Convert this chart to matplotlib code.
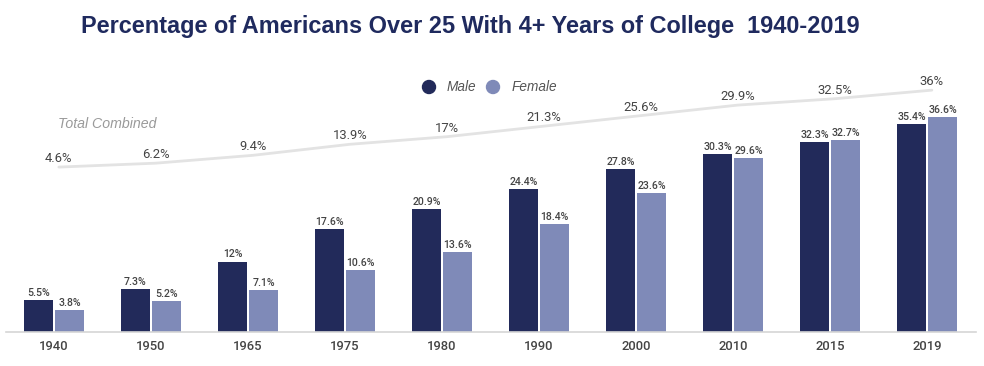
#!/usr/bin/env python3
import matplotlib
matplotlib.use("Agg")
import matplotlib.pyplot as plt
from matplotlib.patches import Ellipse
import numpy as np

years = ["1940", "1950", "1965", "1975", "1980", "1990", "2000", "2010", "2015", "2019"]
male = [5.5, 7.3, 12, 17.6, 20.9, 24.4, 27.8, 30.3, 32.3, 35.4]
female = [3.8, 5.2, 7.1, 10.6, 13.6, 18.4, 23.6, 29.6, 32.7, 36.6]
total = [4.6, 6.2, 9.4, 13.9, 17, 21.3, 25.6, 29.9, 32.5, 36]

navy = "#222a5a"
lavender = "#7f8ab8"
label_col = "#444444"

plt.rcParams['font.family'] = ['Roboto', 'DejaVu Sans']

fig = plt.figure(figsize=(9.84, 3.66), dpi=100, facecolor="white")
# axes: x 5.5..975.5 px, y 332 (bottom) .. 60 (top) px
W, H = 984, 366
ax = fig.add_axes([5.5 / W, (H - 332) / H, 970 / W, 272 / H])
ax.set_xlim(-0.5, 9.5)
ax.set_ylim(0, 46.3)

x = np.arange(len(years))
bw = 0.30
off = 0.16
b1 = ax.bar(x - off, male, bw, color=navy, zorder=2)
b2 = ax.bar(x + off, female, bw, color=lavender, zorder=2)

def fmt(v):
    return f"{v:g}%"

for bars, vals in [(b1, male), (b2, female)]:
    for rect, v in zip(bars, vals):
        ax.annotate(fmt(v), (rect.get_x() + rect.get_width() / 2, v), xytext=(0, 1.5),
                    textcoords="offset points", ha="center", va="bottom",
                    fontsize=7.6, color=label_col, fontweight="medium")

for s in ["top", "right", "left"]:
    ax.spines[s].set_visible(False)
ax.spines["bottom"].set_color("#d6d6d6")
ax.spines["bottom"].set_linewidth(1.2)
ax.set_yticks([])
ax.set_xticks(x)
ax.set_xticklabels(years, fontsize=9.4, color=label_col, fontweight="medium")
ax.tick_params(axis="x", length=0, pad=6)

# total combined on its own scale
ax2 = ax.twinx()
ax2.set_ylim(-62.7, 48.3)
ax2.axis("off")
ax2.plot(x + 0.05, total, color="#e3e3e3", lw=2, zorder=1,
         solid_capstyle="round", solid_joinstyle="round")
for xi, v in zip(x, total):
    ax2.annotate(fmt(v), (xi + 0.05, v), xytext=(0, 1.5), textcoords="offset points",
                 ha="center", va="bottom", fontsize=9.4, color=label_col)

fig.text(58 / W, 1 - 124 / H, "Total Combined", fontsize=10.2, color="#9a9a9a",
         style="italic", family="Liberation Sans", va="center", ha="left")

# legend
for cx, col, name, tx in [(429, navy, "Male", 447), (493, lavender, "Female", 512)]:
    fig.patches.append(Ellipse((cx / W, 1 - 87 / H), 13 / W, 13 / H,
                               transform=fig.transFigure, color=col, figure=fig))
    fig.text(tx / W, 1 - 87 / H, name, fontsize=9.8, color="#555555", style="italic",
             family="Liberation Sans", va="center", ha="left")

fig.text(470 / W, 1 - 26 / H, "Percentage of Americans Over 25 With 4+ Years of College  1940-2019",
         fontsize=16.9, fontweight="bold", color="#1f2a5e", family="Liberation Sans",
         ha="center", va="center")

fig.savefig("out.png", dpi=100, facecolor="white")
